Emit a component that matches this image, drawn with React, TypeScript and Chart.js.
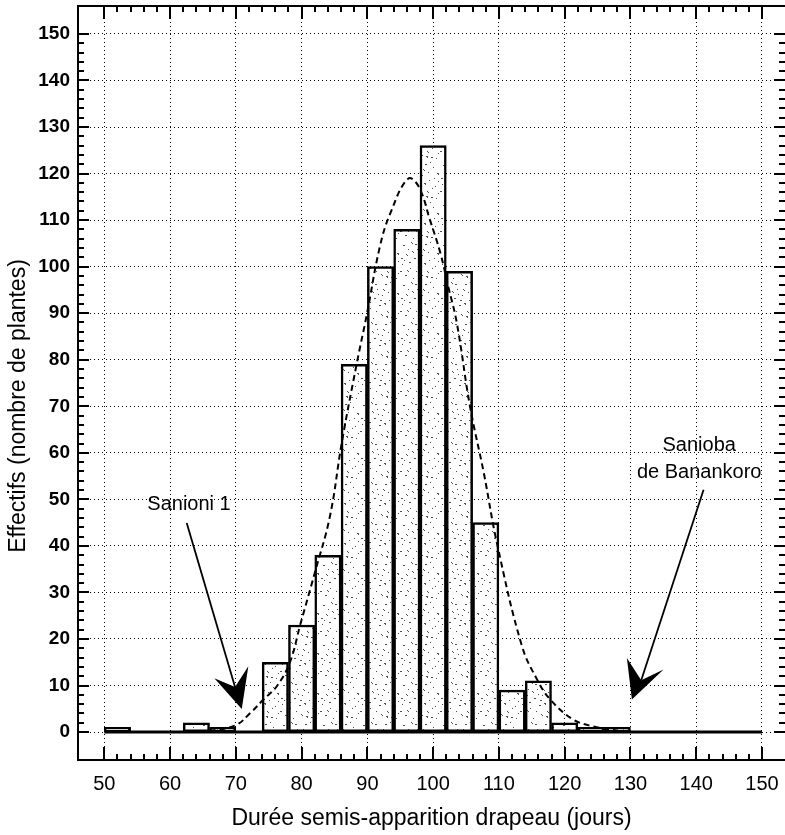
import React, { useEffect, useRef } from 'react';
import { Chart, registerables } from 'chart.js';

Chart.register(...registerables);

// ---- data ----
const binStarts = [50, 54, 58, 62, 66, 70, 74, 78, 82, 86, 90, 94, 98, 102, 106, 110, 114, 118, 122, 126];
const binCounts = [1, 0, 0, 2, 1, 0, 15, 23, 38, 79, 100, 108, 126, 99, 45, 9, 11, 2, 1, 1];
const binWidth = 4;

const curveX = [66, 70, 72.2, 74.2, 76.2, 78.2, 79.8, 82, 84.3, 86.1, 88.4, 89.9, 91.9, 93.5, 96.2, 97.8, 99.5, 101.1, 102.3, 103.6, 105.6, 107.7, 109.7, 113.5, 115.8, 117.8, 121.3, 124.4, 128];
const curveY = [0.2, 1.5, 4.1, 7.0, 9.8, 14.9, 23.1, 34.2, 46.3, 62.1, 79.3, 89.6, 104.3, 111.5, 118.9, 117.2, 110.1, 102.9, 95.7, 87.9, 70.0, 55.7, 40.6, 18.5, 11.3, 7.0, 2.7, 1.2, 0.3];

const baselineX = [50, 150];
const baselineY = [0, 0];

const xTicks = [50, 60, 70, 80, 90, 100, 110, 120, 130, 140, 150];
const yTicks = [0, 10, 20, 30, 40, 50, 60, 70, 80, 90, 100, 110, 120, 130, 140, 150];
const minorStep = 2;

const xTitle = 'Durée semis-apparition drapeau (jours)';
const yTitle = 'Effectifs (nombre de plantes)';
const labelLeft = 'Sanioni 1';
const labelRight = ['Sanioba', 'de Banankoro'];

const FONT = "'Liberation Sans', Arial, Helvetica, sans-serif";

function makePattern(ctx: CanvasRenderingContext2D) {
  const c = document.createElement('canvas');
  c.width = 40;
  c.height = 40;
  const p = c.getContext('2d')!;
  p.fillStyle = '#ffffff';
  p.fillRect(0, 0, 40, 40);
  p.fillStyle = '#505050';
  const dots = [
    [3, 5], [11, 2], [17, 9], [25, 4], [33, 7], [6, 14], [14, 18], [22, 15], [29, 20], [37, 13],
    [2, 24], [10, 28], [19, 25], [27, 31], [35, 26], [5, 35], [13, 38], [21, 34], [31, 37], [38, 33],
    [8, 9], [24, 23], [16, 31], [34, 18], [1, 18], [12, 11], [28, 12], [20, 20], [36, 38], [7, 30],
    [15, 4], [30, 2], [4, 20], [26, 36], [18, 14], [32, 28], [9, 22], [23, 9], [38, 21], [0, 31],
  ];
  dots.forEach(([x, y], i) => {
    p.fillRect(x, y, i % 3 === 0 ? 2 : 1, 1);
    if (i % 4 === 1) p.fillRect(x + 1, y + 1, 1, 1);
  });
  return ctx.createPattern(c, 'repeat');
}

const framePlugin = {
  id: 'frameTicks',
  afterDatasetsDraw(chart: any) {
    const { ctx, chartArea: a, scales } = chart;
    const xs = scales.x;
    const ys = scales.y;
    ctx.save();
    const P = (x: number, y: number) => [xs.getPixelForValue(x), ys.getPixelForValue(y)];

    // annotations
    ctx.fillStyle = '#000';
    ctx.strokeStyle = '#000';
    ctx.font = `20px ${FONT}`;
    ctx.textAlign = 'center';
    ctx.textBaseline = 'middle';
    let [tx, ty] = P(62.88, 48.85);
    ctx.fillText(labelLeft, tx, ty);
    [tx, ty] = P(140.45, 61.52);
    ctx.fillText(labelRight[0], tx, ty);
    [tx, ty] = P(140.45, 55.72);
    ctx.fillText(labelRight[1], tx, ty);

    const arrow = (start: number[], tip: number[], left: number[], notch: number[], right: number[]) => {
      const s = P(start[0], start[1]);
      const n = P(notch[0], notch[1]);
      ctx.lineWidth = 1.8;
      ctx.beginPath();
      ctx.moveTo(s[0], s[1]);
      ctx.lineTo(n[0], n[1]);
      ctx.stroke();
      const t = P(tip[0], tip[1]);
      const l = P(left[0], left[1]);
      const r = P(right[0], right[1]);
      ctx.beginPath();
      ctx.moveTo(t[0], t[1]);
      ctx.lineTo(l[0], l[1]);
      ctx.lineTo(n[0], n[1]);
      ctx.lineTo(r[0], r[1]);
      ctx.closePath();
      ctx.fill();
    };
    arrow([62.53, 44.92], [70.9, 4.98], [66.73, 11.55], [69.88, 9.71], [71.9, 14.13]);
    arrow([141.12, 52.07], [130.22, 6.98], [129.46, 15.93], [131.64, 11.12], [135.03, 13.42]);

    // y axis title (rotated)
    ctx.save();
    ctx.translate(19, 406);
    ctx.rotate(-Math.PI / 2);
    ctx.font = `23px ${FONT}`;
    ctx.fillText(yTitle, 0, 0);
    ctx.restore();

    // frame (left, top, bottom; right edge lies outside the picture)
    ctx.lineWidth = 2;
    ctx.beginPath();
    ctx.moveTo(a.right + 2, a.top);
    ctx.lineTo(a.left, a.top);
    ctx.lineTo(a.left, a.bottom);
    ctx.lineTo(a.right + 2, a.bottom);
    ctx.stroke();

    // inward ticks
    ctx.lineWidth = 2;
    ctx.beginPath();
    for (let v = xTicks[0]; v <= xTicks[xTicks.length - 1]; v += minorStep) {
      const px = Math.round(xs.getPixelForValue(v));
      const major = v % 10 === 0;
      const len = major ? 13 : 6;
      ctx.moveTo(px, a.bottom);
      ctx.lineTo(px, a.bottom - len);
      ctx.moveTo(px, a.top);
      ctx.lineTo(px, a.top + len);
    }
    for (let v = yTicks[0]; v <= yTicks[yTicks.length - 1]; v += minorStep) {
      const py = Math.round(ys.getPixelForValue(v));
      const major = v % 10 === 0;
      const len = major ? 11 : 6;
      ctx.moveTo(a.left, py);
      ctx.lineTo(a.left + len, py);
      ctx.moveTo(a.right, py);
      ctx.lineTo(a.right - len, py);
    }
    ctx.stroke();
    ctx.restore();
  },
};

export default function App() {
  const ref = useRef<HTMLCanvasElement | null>(null);
  useEffect(() => {
    const canvas = ref.current!;
    const ctx = canvas.getContext('2d')!;
    const pattern = makePattern(ctx);
    const chart = new Chart(ctx, {
      type: 'bar',
      data: {
        datasets: [
          {
            type: 'line',
            label: 'Loi normale',
            data: curveX.map((x, i) => ({ x, y: curveY[i] })),
            borderColor: '#000',
            borderWidth: 2,
            borderDash: [6, 4],
            pointRadius: 0,
            tension: 0.4,
            fill: false,
            order: 0,
          } as any,
          {
            type: 'line',
            label: 'base',
            data: baselineX.map((x, i) => ({ x, y: baselineY[i] })),
            borderColor: '#000',
            borderWidth: 3,
            pointRadius: 0,
            fill: false,
            order: 1,
          } as any,
          {
            type: 'bar',
            label: 'Effectifs',
            data: binStarts.map((b, i) => ({ x: b + binWidth / 2, y: binCounts[i] })),
            backgroundColor: pattern as any,
            borderColor: '#000',
            borderWidth: 2.5,
            borderSkipped: false,
            barPercentage: 1,
            categoryPercentage: 1,
            order: 2,
          } as any,
        ],
      },
      options: {
        responsive: false,
        animation: false,
        devicePixelRatio: 1,
        layout: { padding: { top: 6, right: 0, left: 0, bottom: 0 } },
        plugins: { legend: { display: false }, tooltip: { enabled: false } },
        scales: {
          x: {
            type: 'linear',
            min: 46,
            max: 153.5,
            offset: false,
            afterBuildTicks: (s: any) => { s.ticks = xTicks.map((v) => ({ value: v })); },
            afterFit: (s: any) => { s.height = 75; s.paddingLeft = 0; s.paddingRight = 0; },
            grid: { drawTicks: false, color: '#000', lineWidth: 1, offset: false },
            border: { display: false, dash: [1, 3] },
            ticks: { padding: 12, color: '#000', font: { family: FONT, size: 20 }, maxRotation: 0 },
            title: { display: true, text: xTitle, color: '#000', font: { family: FONT, size: 23 }, padding: { top: 0, bottom: 3 } },
          },
          y: {
            type: 'linear',
            min: -6,
            max: 156,
            afterBuildTicks: (s: any) => { s.ticks = yTicks.map((v) => ({ value: v })); },
            afterFit: (s: any) => { s.width = 78; s.paddingTop = 0; s.paddingBottom = 0; },
            grid: { drawTicks: false, color: '#000', lineWidth: 1 },
            border: { display: false, dash: [1, 3] },
            ticks: { padding: 8, color: '#000', font: { family: FONT, size: 19, weight: 'bold' } },
            title: { display: false },
          },
        },
      },
      plugins: [framePlugin],
    });
    return () => chart.destroy();
  }, []);
  return (
    <div style={{ position: 'absolute', left: 0, top: 0, width: 785, height: 835, background: '#fff' }}>
      <canvas ref={ref} width={785} height={835} style={{ width: 785, height: 835, display: 'block' }} />
    </div>
  );
}
